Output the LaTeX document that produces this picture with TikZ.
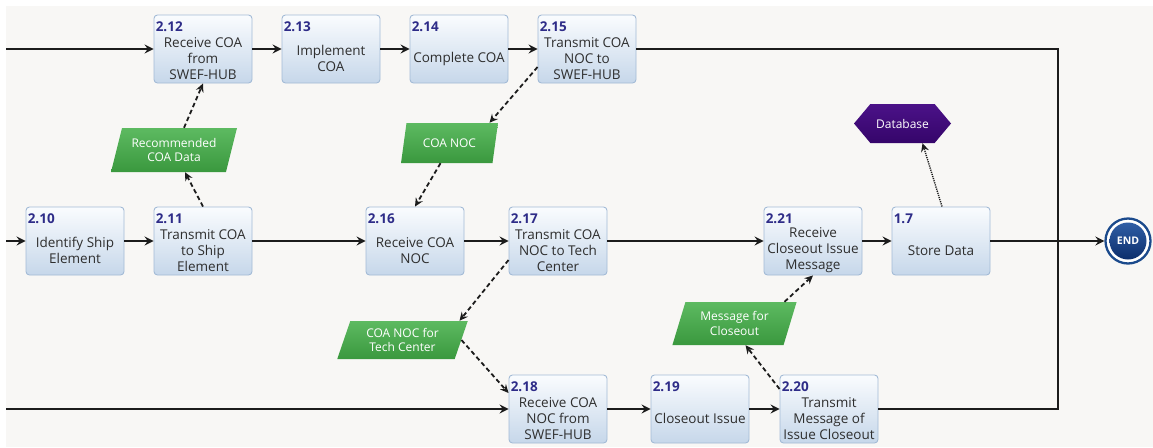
\documentclass[tikz,border=0pt]{standalone}
\usepackage{fontspec}
\setmainfont{Open Sans}
\usetikzlibrary{arrows.meta,shapes.geometric,shapes.symbols}

\definecolor{canvas}{HTML}{F8F7F5}
\definecolor{boxtop}{HTML}{FAFCFE}
\definecolor{boxbot}{HTML}{C6D7EA}
\definecolor{boxedge}{HTML}{A3BBD6}
\definecolor{numblue}{HTML}{2E2C88}
\definecolor{txtgray}{HTML}{2E2E2E}
\definecolor{linegray}{HTML}{1C1C1C}
\definecolor{greentop}{HTML}{5DBA61}
\definecolor{greenbot}{HTML}{3A983E}
\definecolor{dbtop}{HTML}{4B1288}
\definecolor{dbbot}{HTML}{35056A}
\definecolor{endedge}{HTML}{1B4A8C}
\definecolor{endtop}{HTML}{2F5EA5}
\definecolor{endbot}{HTML}{0C2E6C}

\tikzset{
  procbox/.style={draw=boxedge, line width=0.9pt, rounded corners=3.5pt,
    top color=boxtop, bottom color=boxbot,
    minimum width=98pt, minimum height=68pt, inner sep=0pt},
  stepnum/.style={anchor=north west, inner sep=0pt, text=numblue,
    font=\bfseries\fontsize{13.5}{16}\selectfont},
  steptext/.style={align=center, inner sep=0pt, text=txtgray,
    font=\fontsize{13.5}{16}\selectfont},
  dataobj/.style={trapezium, trapezium stretches=true,
    trapezium left angle=69, trapezium right angle=111,
    top color=greentop, bottom color=greenbot, inner sep=0pt,
    text=white, align=center, font=\fontsize{12}{14.3}\selectfont},
  store/.style={signal, signal to=west and east, signal pointer angle=100,
    top color=dbtop, bottom color=dbbot, inner sep=0pt,
    minimum width=97pt, minimum height=39pt,
    text=white, font=\fontsize{12}{14}\selectfont},
  flow/.style={draw=linegray, line width=1.6pt,
    -{Stealth[length=9pt,width=9pt,inset=3.2pt]}},
  flowline/.style={draw=linegray, line width=1.6pt},
  dataflow/.style={draw=linegray, line width=1.8pt, dash pattern=on 4.5pt off 3pt,
    -{Stealth[length=8.5pt,width=8pt,inset=3pt]}},
  dbflow/.style={draw=linegray, line width=1.4pt, dash pattern=on 1.2pt off 1pt,
    -{Stealth[length=8.5pt,width=8pt,inset=3pt]}},
}

% one process step: name, centre, number, caption
\newcommand\procstep[4]{%
  \node[procbox] (#1) at (#2) {};
  \node[stepnum] (#1-num) at ([shift={(2pt,-7pt)}]#1.north west) {#3};
  \node[steptext] (#1-txt) at ([yshift=-44pt]#1.north) {#4};
}

\begin{document}
\begin{tikzpicture}[x=1pt,y=-1pt]
\useasboundingbox (0,0) rectangle (1153,447);
\fill[white] (0,0) rectangle (1153,447);
\fill[canvas] (6,6) rectangle (1153,447);

% upper lane
\procstep{b212}{203,49}{2.12}{Receive COA\\from\\SWEF-HUB}
\procstep{b213}{331,49}{2.13}{Implement\\COA}
\procstep{b214}{459,49}{2.14}{Complete COA}
\procstep{b215}{587,49}{2.15}{Transmit COA\\NOC to\\SWEF-HUB}

% middle lane
\procstep{b210}{75,241}{2.10}{Identify Ship\\Element}
\procstep{b211}{203,241}{2.11}{Transmit COA\\to Ship\\Element}
\procstep{b216}{415,241}{2.16}{Receive COA\\NOC}
\procstep{b217}{558,241}{2.17}{Transmit COA\\NOC to Tech\\Center}
\procstep{b221}{813,241}{2.21}{Receive\\Closeout Issue\\Message}
\procstep{b17}{941,241}{1.7}{Store Data}

% lower lane
\procstep{b218}{558,409}{2.18}{Receive COA\\NOC from\\SWEF-HUB}
\procstep{b219}{700,409}{2.19}{Closeout Issue}
\procstep{b220}{829,409}{2.20}{Transmit\\Message of\\Issue Closeout}

% data objects
\node[dataobj, minimum width=126pt, minimum height=44pt] (rcd) at (174,150) {Recommended\\COA Data};
\node[dataobj, minimum width=97pt, minimum height=40pt] (cn) at (449.5,143) {COA NOC};
\node[dataobj, minimum width=131pt, minimum height=38pt] (cnt) at (402.5,340) {COA NOC for\\Tech Center};
\node[dataobj, minimum width=125pt, minimum height=43pt] (mc) at (734.5,323.5) {Message for\\Closeout};
\node[store] (db) at (902.5,123.5) {Database};

% end event
\node[circle, draw=endedge, line width=2.3pt, fill=white, minimum size=45pt, inner sep=0pt] (endring) at (1128,241) {};
\node[circle, top color=endtop, bottom color=endbot, minimum size=37pt, inner sep=0pt,
  text=white, font=\bfseries\fontsize{10.5}{12}\selectfont] (endn) at (endring) {END};

% lane entries and merge point
\coordinate (inT) at (6,49);
\coordinate (inM) at (6,241);
\coordinate (inB) at (6,409);
\coordinate (merge) at (1058,241);

% sequence flows
\draw[flow] (inT) -- (b212);
\draw[flow] (b212) -- (b213);
\draw[flow] (b213) -- (b214);
\draw[flow] (b214) -- (b215);
\draw[flowline] (b215.east) -| (merge);

\draw[flow] (inM) -- (b210);
\draw[flow] (b210) -- (b211);
\draw[flow] (b211) -- (b216);
\draw[flow] (b216) -- (b217);
\draw[flow] (b217) -- (b221);
\draw[flow] (b221) -- (b17);
\draw[flow] (b17) -- (endring);

\draw[flow] (inB) -- (b218);
\draw[flow] (b218) -- (b219);
\draw[flow] (b219) -- (b220);
\draw[flowline] (b220.east) -| (merge);

% data associations
\draw[dataflow] (b211.north) -- ([xshift=11pt]rcd.south);
\draw[dataflow] ([xshift=10pt]rcd.north) -- (b212.south);
\draw[dataflow] ([yshift=-18pt]b215.west) -- ([xshift=40pt]cn.north);
\draw[dataflow] ([xshift=-9pt]cn.south) -- (b216.north);
\draw[dataflow] ([yshift=-19pt]b217.west) -- ([xshift=57pt]cnt.north);
\draw[dataflow] (cnt.east) -- ([yshift=16pt]b218.west);
\draw[dataflow] ([yshift=20pt]b220.west) -- ([xshift=11pt]mc.south);
\draw[dataflow] ([xshift=50pt]mc.north) -- (b221.south);
\draw[dbflow] ([xshift=1pt]b17.north) -- ([xshift=20pt]db.south);
\end{tikzpicture}
\end{document}
